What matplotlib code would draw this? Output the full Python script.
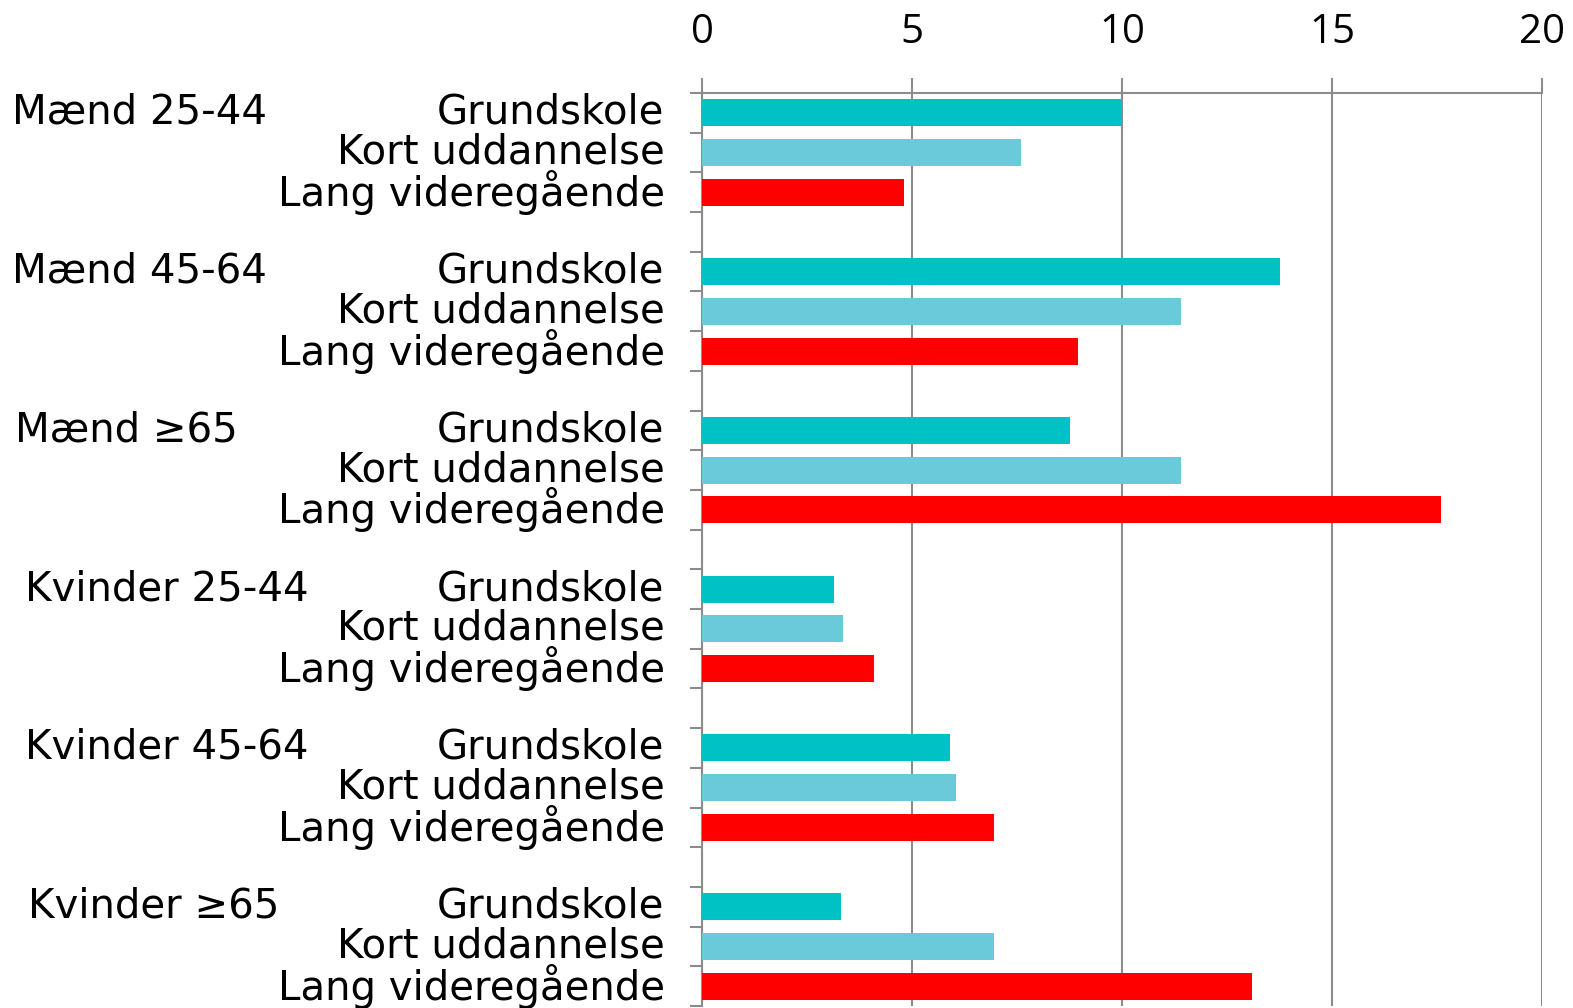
import matplotlib
matplotlib.use("Agg")
import matplotlib.pyplot as plt
import matplotlib.transforms as mtransforms
import numpy as np

groups = ["Mænd 25-44", "Mænd 45-64", "Mænd ≥65", "Kvinder 25-44", "Kvinder 45-64", "Kvinder ≥65"]
levels = ["Grundskole", "Kort uddannelse", "Lang videregående"]
grundskole = [10.0, 13.75, 8.75, 3.15, 5.9, 3.3]
kort = [7.6, 11.4, 11.4, 3.35, 6.05, 6.95]
lang = [4.8, 8.95, 17.6, 4.1, 6.95, 13.1]
xticks = [0, 5, 10, 15, 20]

colors = ["#00C1C4", "#6BCAD9", "#FF0000"]
grid_col = "#8C8C8C"
label_font = ["DejaVu Sans"]
group_x_px = [12, 12, 15, 25, 25, 28]

W, H = 1573, 1008
fig = plt.figure(figsize=(W / 100, H / 100), dpi=100)
ax = fig.add_axes([702 / W, 2 / H, 840 / W, (1006 - 93) / H])

series = [grundskole, kort, lang]
ypos_all, labels_all = [], []
for g in range(len(groups)):
    for s in range(3):
        y = g * 4 + s
        ax.barh(y, series[s][g], height=0.68, color=colors[s], zorder=3)
        ypos_all.append(y)
        labels_all.append(levels[s])

n_slots = len(groups) * 4 - 1
ax.set_ylim(n_slots - 0.5, -0.5)
ax.set_xlim(0, 20)

ax.set_yticks(ypos_all)
ax.set_yticklabels(labels_all, fontsize=29, family=label_font, va="center")
ax.set_yticks(np.arange(-0.5, n_slots, 1.0), minor=True)
ax.tick_params(axis="y", which="major", length=0, pad=27)
ax.tick_params(axis="y", which="minor", length=9, width=1.5, color=grid_col)

ax.xaxis.tick_top()
ax.set_xticks(xticks)
ax.set_xticklabels([str(t) for t in xticks], fontsize=29, family=["Open Sans", "DejaVu Sans"])
ax.tick_params(axis="x", which="major", length=11, width=1.5, color=grid_col, pad=18)

ax.grid(axis="x", color=grid_col, linewidth=1.5, zorder=0)
for side in ["right", "bottom"]:
    ax.spines[side].set_visible(False)
for side in ["top", "left"]:
    ax.spines[side].set_color(grid_col)
    ax.spines[side].set_linewidth(1.5)

trans = mtransforms.blended_transform_factory(fig.transFigure, ax.transData)
for g, name in enumerate(groups):
    fig.text(group_x_px[g] / W, g * 4, name, transform=trans, fontsize=29,
             family=label_font, ha="left", va="center")

fig.savefig("out.png", dpi=100)
